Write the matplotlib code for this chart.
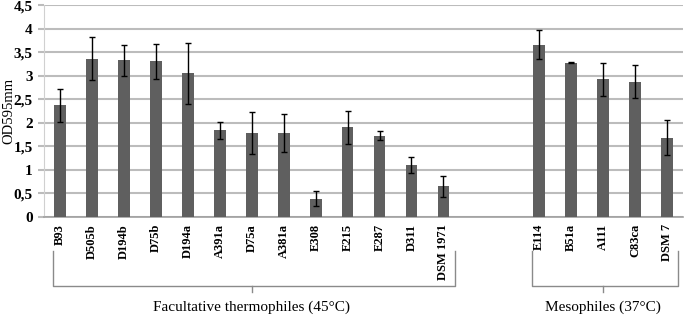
import numpy as np
import matplotlib
matplotlib.use("Agg")
import matplotlib.pyplot as plt
import matplotlib.transforms as mtransforms

# Данные
facult_names = ["B93", "D505b", "D194b", "D75b", "D194a", "A391a", "D75a", "A381a",
                "E308", "E215", "E287", "D311", "DSM 1971"]
facult_vals = [2.37, 3.36, 3.33, 3.31, 3.05, 1.84, 1.79, 1.78, 0.39, 1.91, 1.73, 1.11, 0.65]
facult_err = [0.35, 0.46, 0.33, 0.37, 0.65, 0.18, 0.45, 0.41, 0.16, 0.35, 0.09, 0.17, 0.22]

meso_names = ["E114", "B51a", "A111", "C83ca", "DSM 7"]
meso_vals = [3.66, 3.28, 2.92, 2.87, 1.68]
meso_err = [0.31, 0.02, 0.35, 0.35, 0.37]

group_labels = ["Facultative thermophiles (45°C)", "Mesophiles (37°C)"]
ylabel = "OD595mm"

serif = "Liberation Serif"
bar_color = "#5f5f5f"
grid_color = "#bcbcbc"
bracket_color = "#8a8a8a"

gap = 2
x_f = np.arange(len(facult_names))
x_m = np.arange(len(meso_names)) + len(facult_names) + gap
x_all = np.concatenate([x_f, x_m])
names = facult_names + meso_names
vals = facult_vals + meso_vals
errs = facult_err + meso_err

fig = plt.figure(figsize=(6.85, 3.15), dpi=100)
ax = fig.add_axes([0.0642, 0.311, 0.933, 0.673])

ax.bar(x_all, vals, width=0.37, color=bar_color, zorder=3)
ax.errorbar(x_all, vals, yerr=errs, fmt="none", ecolor="black", elinewidth=1,
            capsize=2.5, capthick=1, zorder=4)

ax.set_xlim(-0.5, x_all[-1] + 0.5)
ax.set_ylim(0, 4.5)
yt = np.arange(0, 4.51, 0.5)
ax.set_yticks(yt)
ax.set_yticklabels([("%g" % v).replace(".", ",") for v in yt],
                   fontfamily=serif, fontweight="bold", fontsize=11)
ax.yaxis.grid(True, color=grid_color, linewidth=1.5, zorder=0)
ax.set_axisbelow(True)
ax.tick_params(axis="y", length=4, color=grid_color, width=1.5, pad=4)

ax.set_xticks(x_all)
ax.set_xticklabels(names, rotation=90, fontfamily=serif, fontweight="bold", fontsize=9)
ax.tick_params(axis="x", length=0, pad=5)

for s in ["top", "right"]:
    ax.spines[s].set_visible(False)
ax.spines["left"].set_color("#d0d0d0")
ax.spines["bottom"].set_color("#a0a0a0")
ax.spines["bottom"].set_linewidth(1.2)

ax.set_ylabel(ylabel, fontfamily=serif, fontsize=10.5)
ax.yaxis.set_label_coords(-0.045, 0.5)

# Скобки групп
trans = mtransforms.blended_transform_factory(ax.transData, fig.transFigure)
y_top, y_bot, y_tick, y_text = 0.203, 0.092, 0.073, 0.025
for xs, lab in [(x_f, group_labels[0]), (x_m, group_labels[1])]:
    x0 = xs[0] - 0.22
    x1 = xs[-1] + 0.35
    xc = (xs[0] + xs[-1]) / 2
    ax.plot([x0, x0, x1, x1], [y_top, y_bot, y_bot, y_top], transform=trans,
            color=bracket_color, linewidth=1, clip_on=False)
    ax.plot([xc, xc], [y_bot, y_tick], transform=trans,
            color=bracket_color, linewidth=1, clip_on=False)
    ax.text(xc, y_text, lab, transform=trans, ha="center", va="center",
            fontfamily=serif, fontsize=11)

fig.savefig("out.png", dpi=100)
